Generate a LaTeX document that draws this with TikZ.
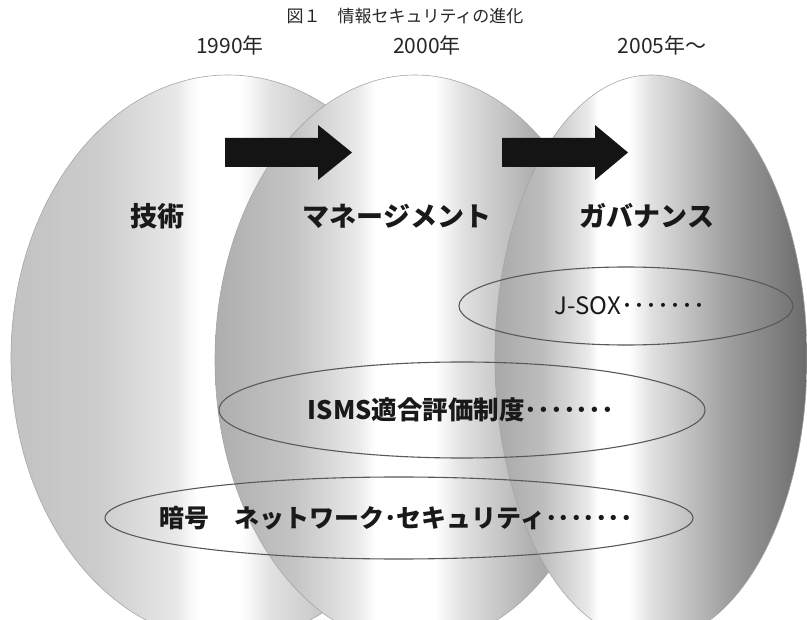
\documentclass[tikz,border=0pt]{standalone}
\usepackage{fontspec}
\newfontfamily\jp{Noto Sans CJK JP}
\usetikzlibrary{shapes.geometric}
\pgfdeclarehorizontalshading{cylA}{100bp}{rgb(0bp)=(.76,.76,.76); rgb(25bp)=(.76,.76,.76); rgb(35bp)=(.80,.80,.80); rgb(44bp)=(.91,.91,.91); rgb(46.5bp)=(1,1,1); rgb(51.5bp)=(1,1,1); rgb(55bp)=(.88,.88,.88); rgb(65bp)=(.72,.72,.72); rgb(75bp)=(.62,.62,.62); rgb(100bp)=(.62,.62,.62)}
\pgfdeclarehorizontalshading{cylB}{100bp}{rgb(0bp)=(.68,.68,.68); rgb(25bp)=(.68,.68,.68); rgb(35bp)=(.77,.77,.77); rgb(43bp)=(.92,.92,.92); rgb(45bp)=(1,1,1); rgb(52.5bp)=(1,1,1); rgb(56bp)=(.88,.88,.88); rgb(65bp)=(.68,.68,.68); rgb(75bp)=(.58,.58,.58); rgb(100bp)=(.58,.58,.58)}
\pgfdeclarehorizontalshading{cylC}{100bp}{rgb(0bp)=(.66,.66,.66); rgb(25bp)=(.66,.66,.66); rgb(32.5bp)=(.74,.74,.74); rgb(40bp)=(.92,.92,.92); rgb(41.5bp)=(1,1,1); rgb(46.5bp)=(1,1,1); rgb(50bp)=(.88,.88,.88); rgb(62.5bp)=(.62,.62,.62); rgb(75bp)=(.42,.42,.42); rgb(100bp)=(.42,.42,.42)}
\tikzset{
  bigell/.style={ellipse, inner sep=0pt, draw=black!35, line width=0.6pt},
  smallell/.style={ellipse, inner sep=0pt, draw=black!65, line width=1.1pt},
  label/.style={font=\jp\bfseries\fontsize{27}{30}\selectfont, text=black!90},
  yearlbl/.style={font=\jp\fontsize{21}{24}\selectfont, text=black!85},
  inner/.style={inner sep=0pt, text=black!90},
  arrowshape/.style={fill=black!92}
}
\begin{document}
\begin{tikzpicture}[x=1pt,y=-1pt]
\useasboundingbox (0,0) rectangle (807,620);
\fill[white] (0,0) rectangle (807,620);
\begin{scope}
\clip (0,0) rectangle (807,620);
\node[bigell, shading=cylA, minimum width=434pt, minimum height=566pt] (e1) at (228,358) {};
\node[bigell, shading=cylB, minimum width=400pt, minimum height=570pt] (e2) at (415,360) {};
\node[bigell, shading=cylC, minimum width=312pt, minimum height=566pt] (e3) at (651,358) {};
\end{scope}
% title and years
\node[font=\jp\fontsize{17}{20}\selectfont, text=black!85] (title) at (405,16) {図１　情報セキュリティの進化};
\node[yearlbl] (y1) at (230,45) {1990年};
\node[yearlbl] (y2) at (427,45) {2000年};
\node[yearlbl] (y3) at (662,45) {2005年〜};
% arrows
\fill[arrowshape] (225,138) -- (318,138) -- (318,125) -- (352,152.5) -- (318,180) -- (318,167) -- (225,167) -- cycle;
\fill[arrowshape] (502,138) -- (595,138) -- (595,125) -- (628,152.5) -- (595,180) -- (595,167) -- (502,167) -- cycle;
% labels
\node[label] (l1) at (157,216) {技術};
\node[label] (l2) at (397,216) {マネージメント};
\node[label] (l3) at (647,216) {ガバナンス};
% small ellipses
\node[smallell, minimum width=334pt, minimum height=78pt] (jsox) at (626,306) {};
\node[inner, font=\jp\fontsize{24}{27}\selectfont] (jsoxt) at ([xshift=4pt]jsox.center) {J-SOX･･･････};
\node[smallell, minimum width=486pt, minimum height=96pt] (isms) at (462,410) {};
\node[inner, font=\jp\bfseries\fontsize{25.5}{28}\selectfont] (ismst) at ([xshift=-1pt]isms.center) {ISMS適合評価制度･･･････};
\node[smallell, minimum width=588pt, minimum height=82pt] (net) at (399,518) {};
\node[inner, font=\jp\bfseries\fontsize{25}{28}\selectfont] (nett) at ([xshift=-3pt]net.center) {暗号　ネットワーク･セキュリティ･･･････};
\end{tikzpicture}
\end{document}
